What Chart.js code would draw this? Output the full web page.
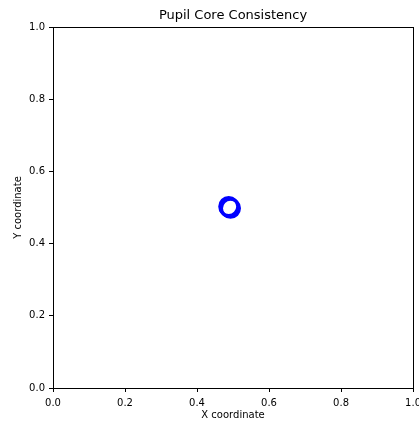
<!DOCTYPE html>
<html>
<head>
<meta charset="utf-8">
<script src="https://cdn.jsdelivr.net/npm/chart.js@4/dist/chart.umd.min.js"></script>
<style>
  html, body { margin: 0; padding: 0; background: #fff; overflow: hidden; }
  #wrap { width: 426px; height: 421px; }
</style>
</head>
<body>
<div id="wrap"><canvas id="graf"></canvas></div>
<script>
// dados do gráfico
const xValores = [0.49, 0.493, 0.488];
const yValores = [0.50, 0.498, 0.503];
const xTicks = [0.0, 0.2, 0.4, 0.6, 0.8, 1.0];
const yTicks = [0.0, 0.2, 0.4, 0.6, 0.8, 1.0];

const pontos = xValores.map((x, i) => ({ x: x, y: yValores[i] }));

// moldura (spines) em volta da área do gráfico
const moldura = {
    id: 'moldura',
    afterDraw(chart) {
        const a = chart.chartArea;
        const ctx = chart.ctx;
        ctx.save();
        ctx.strokeStyle = '#000';
        ctx.lineWidth = 1;
        ctx.strokeRect(Math.round(a.left) + 0.5, Math.round(a.top) + 0.5,
            Math.round(a.right - a.left), Math.round(a.bottom - a.top));
        ctx.restore();
    }
};

const fonte = { family: 'DejaVu Sans', size: 10 };

const graf = new Chart(document.getElementById('graf'), {
    type: 'scatter',
    data: {
        datasets: [{
            label: 'Pupil core',
            data: pontos,
            pointStyle: 'circle',
            pointRadius: 9,
            pointBorderWidth: 3,
            borderColor: '#0000ff',
            backgroundColor: 'rgba(0,0,0,0)'
        }]
    },
    options: {
        responsive: true,
        maintainAspectRatio: false,
        animation: false,
        layout: { padding: { left: 0, right: 0, top: 0, bottom: 0 } },
        plugins: {
            legend: { display: false },
            tooltip: { enabled: false },
            title: {
                display: true,
                fullSize: false,
                text: 'Pupil Core Consistency',
                color: '#000',
                font: { family: 'DejaVu Sans', size: 13, weight: 'normal' },
                padding: { top: 8, bottom: 3.4 }
            }
        },
        scales: {
            x: {
                type: 'linear',
                min: 0,
                max: 1,
                afterBuildTicks: s => { s.ticks = xTicks.map(v => ({ value: v })); },
                afterFit: s => { s.height = 33; },
                ticks: {
                    color: '#000',
                    font: fonte,
                    padding: 5,
                    maxRotation: 0,
                    callback: v => Number(v).toFixed(1)
                },
                grid: { drawOnChartArea: false, drawTicks: true, tickLength: 4, color: '#000' },
                border: { display: true, color: '#000' },
                title: { display: true, text: 'X coordinate', color: '#000', font: fonte, padding: { top: 1, bottom: 0 } }
            },
            y: {
                type: 'linear',
                min: 0,
                max: 1,
                afterBuildTicks: s => { s.ticks = yTicks.map(v => ({ value: v })); },
                afterFit: s => { s.width = 53; s.paddingTop = 0; s.paddingBottom = 0; },
                ticks: {
                    color: '#000',
                    font: fonte,
                    padding: 4,
                    callback: v => Number(v).toFixed(1)
                },
                grid: { drawOnChartArea: false, drawTicks: true, tickLength: 4, color: '#000' },
                border: { display: true, color: '#000' },
                title: { display: true, text: 'Y coordinate', color: '#000', font: fonte, padding: { top: 12, bottom: 4 } }
            }
        }
    },
    plugins: [moldura]
});
</script>
</body>
</html>
